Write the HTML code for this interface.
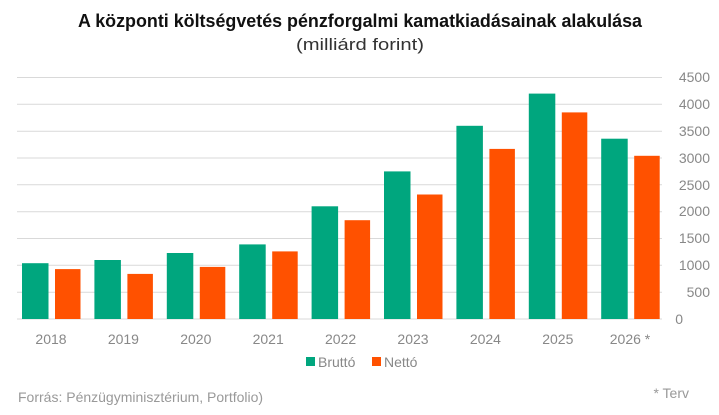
<!DOCTYPE html>
<html><head><meta charset="utf-8"><style>
body{margin:0;background:#fff;width:719px;height:415px;overflow:hidden;}
svg{display:block;font-family:"Liberation Sans",sans-serif;}
</style></head><body>
<svg width="719" height="415" xmlns="http://www.w3.org/2000/svg">
<text x="360" y="27" text-anchor="middle" font-size="18" font-weight="bold" fill="#111" textLength="564" lengthAdjust="spacingAndGlyphs">A központi költségvetés pénzforgalmi kamatkiadásainak alakulása</text>
<text x="360" y="50" text-anchor="middle" font-size="17" fill="#333" textLength="128" lengthAdjust="spacingAndGlyphs">(milliárd forint)</text>
<g stroke="#d9d9d9" stroke-width="1">
<line x1="17" x2="662" y1="77.5" y2="77.5"/><line x1="17" x2="662" y1="104.3" y2="104.3"/><line x1="17" x2="662" y1="131.2" y2="131.2"/><line x1="17" x2="662" y1="158" y2="158"/><line x1="17" x2="662" y1="184.8" y2="184.8"/><line x1="17" x2="662" y1="211.7" y2="211.7"/><line x1="17" x2="662" y1="238.5" y2="238.5"/><line x1="17" x2="662" y1="265.3" y2="265.3"/><line x1="17" x2="662" y1="292.2" y2="292.2"/><line x1="17" x2="662" y1="319" y2="319"/>
</g>
<g font-size="14" fill="#888" text-anchor="end">
<text x="710" y="82">4500</text><text x="710" y="109">4000</text><text x="710" y="136">3500</text><text x="710" y="163">3000</text><text x="710" y="190">2500</text><text x="710" y="216">2000</text><text x="710" y="243">1500</text><text x="710" y="270">1000</text><text x="710" y="297">500</text><text x="683" y="324">0</text>
</g>
<g fill="#00a67e">
<rect x="22" y="263.2" width="26.5" height="55.8"/>
<rect x="94.4" y="260" width="26.5" height="59"/>
<rect x="166.8" y="253" width="26.5" height="66"/>
<rect x="239.2" y="244.4" width="26.5" height="74.6"/>
<rect x="311.6" y="206.3" width="26.5" height="112.7"/>
<rect x="384" y="171.4" width="26.5" height="147.6"/>
<rect x="456.4" y="125.8" width="26.5" height="193.2"/>
<rect x="528.8" y="93.6" width="26.5" height="225.4"/>
<rect x="601.2" y="138.7" width="26.5" height="180.3"/>
</g>
<g fill="#ff5100">
<rect x="55" y="269.1" width="25.5" height="49.9"/>
<rect x="127.4" y="273.9" width="25.5" height="45.1"/>
<rect x="199.8" y="266.9" width="25.5" height="52.1"/>
<rect x="272.2" y="251.4" width="25.5" height="67.6"/>
<rect x="344.6" y="220.2" width="25.5" height="98.8"/>
<rect x="417" y="194.5" width="25.5" height="124.5"/>
<rect x="489.4" y="148.9" width="25.5" height="170.1"/>
<rect x="561.8" y="112.4" width="25.5" height="206.6"/>
<rect x="634.2" y="155.8" width="25.5" height="163.2"/>
</g>
<g font-size="14" fill="#888" text-anchor="middle">
<text x="51" y="344">2018</text><text x="123.4" y="344">2019</text><text x="195.8" y="344">2020</text><text x="268.2" y="344">2021</text><text x="340.6" y="344">2022</text><text x="413" y="344">2023</text><text x="485.4" y="344">2024</text><text x="557.8" y="344">2025</text><text x="630" y="344">2026 *</text>
</g>
<rect x="306" y="357" width="9" height="9" fill="#00a67e"/>
<text x="318" y="367" font-size="14" fill="#888">Bruttó</text>
<rect x="372" y="357" width="9" height="9" fill="#ff5100"/>
<text x="384" y="367" font-size="14" fill="#888">Nettó</text>
<text x="18" y="402" font-size="14" fill="#999">Forrás: Pénzügyminisztérium, Portfolio)</text>
<text x="689" y="398" font-size="14" fill="#999" text-anchor="end">* Terv</text>
</svg>
</body></html>
